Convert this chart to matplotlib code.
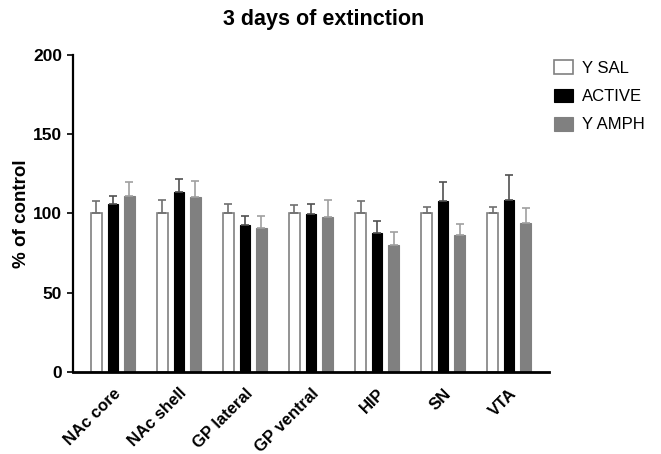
import numpy as np
import matplotlib.pyplot as plt

plt.rcParams['font.family'] = ['Liberation Sans', 'DejaVu Sans']
plt.rcParams['font.weight'] = 'bold'

regions = ['NAc core', 'NAc shell', 'GP lateral', 'GP ventral', 'HIP', 'SN', 'VTA']
sal = [100, 100, 100, 100, 100, 100, 100]
sal_err = [7.5, 8.2, 5.7, 5.3, 7.8, 3.8, 4.2]
active = [106.1, 113.3, 92.4, 99.4, 87.5, 107.6, 108.4]
active_err = [4.7, 8.7, 5.9, 6.5, 7.6, 12.0, 16.1]
amph = [110.8, 110.3, 90.5, 97.7, 80.2, 86.1, 94.1]
amph_err = [9.0, 10.4, 8.0, 10.9, 8.2, 7.4, 9.3]

fig = plt.figure(figsize=(6.61, 4.54), dpi=100)
ax = fig.add_axes([0.110, 0.181, 0.720, 0.698])

x = np.arange(len(regions))
w = 0.165
off = 0.25

ax.bar(x - off, sal, w, color='white', edgecolor='#808080', linewidth=1.2, label='Y SAL',
       yerr=[np.zeros(7), sal_err], error_kw=dict(ecolor='#707070', elinewidth=1.2, capsize=3, capthick=1.2))
ax.bar(x, active, w, color='black', edgecolor='black', linewidth=0.8, label='ACTIVE',
       yerr=[np.zeros(7), active_err], error_kw=dict(ecolor='#505050', elinewidth=1.2, capsize=3, capthick=1.2))
ax.bar(x + off, amph, w, color='#808080', edgecolor='#808080', linewidth=0.8, label='Y AMPH',
       yerr=[np.zeros(7), amph_err], error_kw=dict(ecolor='#a0a0a0', elinewidth=1.2, capsize=3, capthick=1.2))

ax.set_xlim(-0.61, 6.6)
ax.set_ylim(0, 200)
ax.set_yticks([0, 50, 100, 150, 200])
ax.set_xticks(x)
ax.set_xticklabels(regions, rotation=45, ha='right', rotation_mode='anchor', fontsize=12, fontweight='bold')
ax.tick_params(axis='x', length=0, pad=10)
ax.tick_params(axis='y', length=4, width=1.2, labelsize=12.5)
for lbl in ax.get_yticklabels():
    lbl.set_fontweight('bold')
ax.spines['top'].set_visible(False)
ax.spines['right'].set_visible(False)
ax.spines['left'].set_linewidth(1.6)
ax.spines['bottom'].set_linewidth(2)
ax.set_ylabel('% of control', fontsize=13.5, fontweight='bold', labelpad=2)
fig.suptitle('3 days of extinction', x=0.49, y=0.98, fontsize=15.5, fontweight='bold')

leg = ax.legend(loc='upper left', bbox_to_anchor=(0.98, 1.03), frameon=False, fontsize=12,
                handlelength=1.15, handleheight=0.9, labelspacing=0.75, handletextpad=0.5)
for t in leg.get_texts():
    t.set_fontweight('normal')

fig.savefig('out.png', dpi=100)
